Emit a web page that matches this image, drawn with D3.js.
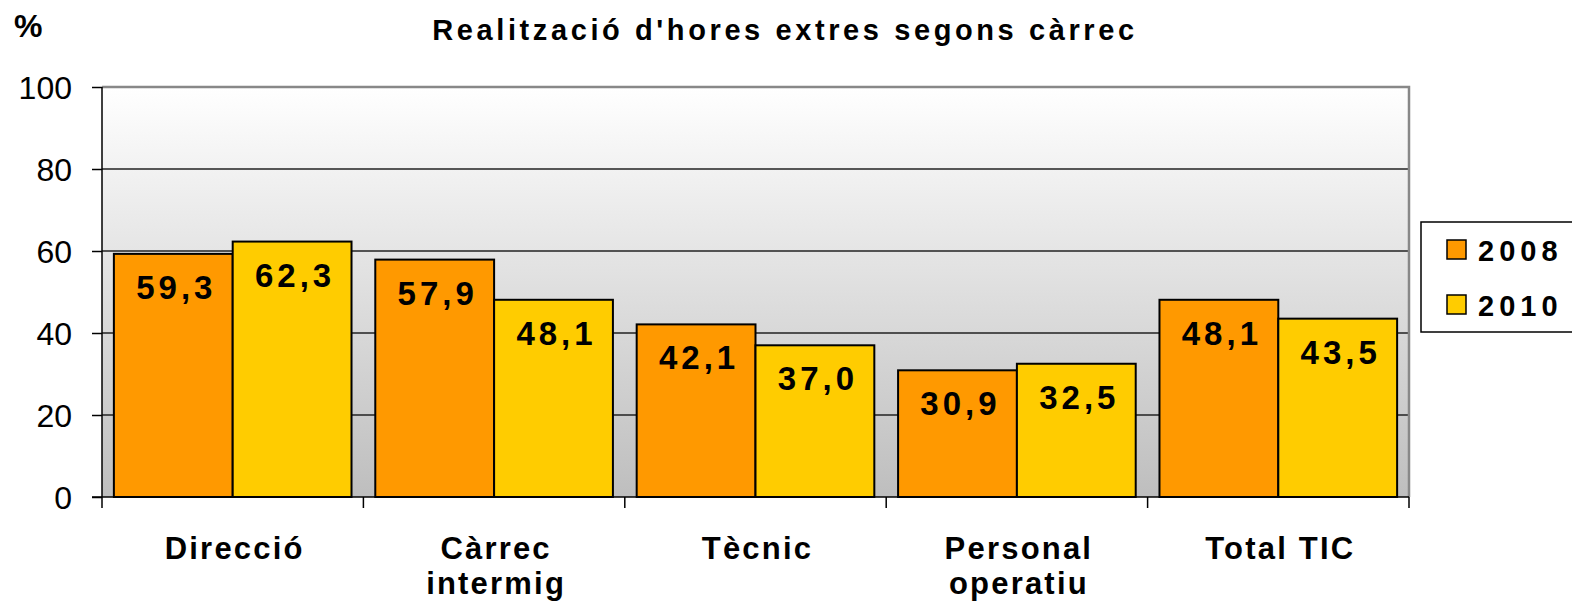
<!DOCTYPE html>
<html>
<head>
<meta charset="utf-8">
<script src="https://cdn.jsdelivr.net/npm/d3@7"></script>
<style>
  html, body { margin: 0; padding: 0; background: #fff; }
  svg { display: block; font-family: "Liberation Sans", Arial, sans-serif; }
</style>
</head>
<body>
<div id="chart"></div>
<script>
const categories = [["Direcció"], ["Càrrec", "intermig"], ["Tècnic"], ["Personal", "operatiu"], ["Total TIC"]];
const series = ["2008", "2010"];
const values2008 = [59.3, 57.9, 42.1, 30.9, 48.1];
const values2010 = [62.3, 48.1, 37.0, 32.5, 43.5];
const yTicks = [0, 20, 40, 60, 80, 100];
const colors = ["#ff9900", "#ffcc00"];

const width = 1572, height = 605;
const plot = { left: 102, right: 1409, top: 87, bottom: 497 };

const svg = d3.select("#chart").append("svg")
    .attr("width", width)
    .attr("height", height);

const defs = svg.append("defs");
const grad = defs.append("linearGradient")
    .attr("id", "bg")
    .attr("x1", 0).attr("y1", 0).attr("x2", 0).attr("y2", 1);
grad.append("stop").attr("offset", "0%").attr("stop-color", "#ffffff");
grad.append("stop").attr("offset", "100%").attr("stop-color", "#bebebe");

const x0 = d3.scaleBand()
    .domain(d3.range(categories.length))
    .range([plot.left, plot.right])
    .paddingInner(0).paddingOuter(0);

const x1 = d3.scaleBand()
    .domain(series)
    .range([0, x0.bandwidth()])
    .paddingInner(0).paddingOuter(0.1);

const y = d3.scaleLinear().domain([0, 100]).range([plot.bottom, plot.top]);

// plot background
svg.append("rect")
    .attr("x", plot.left).attr("y", plot.top)
    .attr("width", plot.right - plot.left)
    .attr("height", plot.bottom - plot.top)
    .attr("fill", "url(#bg)");

// gridlines
svg.append("g")
    .selectAll("line")
    .data(yTicks.filter(d => d > 0 && d < 100))
    .join("line")
    .attr("x1", plot.left).attr("x2", plot.right)
    .attr("y1", d => y(d)).attr("y2", d => y(d))
    .attr("stroke", "#222").attr("stroke-width", 1.5);

// top and right border
svg.append("path")
    .attr("d", `M${plot.left},${plot.top}H${plot.right}V${plot.bottom}`)
    .attr("fill", "none")
    .attr("stroke", "#888")
    .attr("stroke-width", 2.5);

// y axis
const yAxis = svg.append("g")
    .attr("transform", `translate(${plot.left},0)`)
    .call(d3.axisLeft(y).tickValues(yTicks).tickSize(10).tickPadding(20).tickFormat(d3.format("d")));
yAxis.select(".domain").attr("stroke", "#000").attr("stroke-width", 1.5)
    .attr("d", `M0,${plot.top}V${plot.bottom + 11}`);
yAxis.selectAll(".tick line").attr("stroke", "#000").attr("stroke-width", 1.5);
yAxis.selectAll(".tick text")
    .attr("font-size", 32)
    .attr("font-family", "Liberation Sans, Arial, sans-serif")
    .attr("fill", "#000")
    .attr("dy", "0.36em");

// bars
const groups = svg.append("g")
    .selectAll("g")
    .data(categories.map((c, i) => ({ i, vals: [values2008[i], values2010[i]] })))
    .join("g")
    .attr("transform", d => `translate(${x0(d.i)},0)`);

groups.selectAll("rect")
    .data(d => d.vals.map((v, k) => ({ key: series[k], v, k })))
    .join("rect")
    .attr("x", d => x1(d.key))
    .attr("y", d => y(d.v))
    .attr("width", x1.bandwidth())
    .attr("height", d => y(0) - y(d.v))
    .attr("fill", d => colors[d.k])
    .attr("stroke", "#000")
    .attr("stroke-width", 2);

const fmt = v => d3.format(".1f")(v).replace(".", ",");
groups.selectAll("text")
    .data(d => d.vals.map((v, k) => ({ key: series[k], v, k })))
    .join("text")
    .attr("x", d => x1(d.key) + x1.bandwidth() / 2 + 3)
    .attr("y", d => y(d.v) + 45)
    .attr("text-anchor", "middle")
    .attr("font-size", 33)
    .attr("font-weight", "bold")
    .attr("letter-spacing", 4)
    .text(d => fmt(d.v));

// x axis baseline and category ticks
svg.append("line")
    .attr("x1", plot.left - 10).attr("x2", plot.right)
    .attr("y1", plot.bottom).attr("y2", plot.bottom)
    .attr("stroke", "#000").attr("stroke-width", 1.5);

svg.append("g")
    .selectAll("line")
    .data(d3.range(1, categories.length + 1))
    .join("line")
    .attr("x1", d => x0(0) + d * x0.step())
    .attr("x2", d => x0(0) + d * x0.step())
    .attr("y1", plot.bottom).attr("y2", plot.bottom + 11)
    .attr("stroke", "#000").attr("stroke-width", 1.5);

// category labels
const catText = svg.append("g")
    .selectAll("text")
    .data(categories.map((c, i) => ({ c, i })))
    .join("text")
    .attr("y", 559)
    .attr("text-anchor", "middle")
    .attr("font-size", 31)
    .attr("font-weight", "bold")
    .attr("letter-spacing", 2.2);
catText.selectAll("tspan")
    .data(d => d.c.map(line => ({ line, x: x0(d.i) + x0.bandwidth() / 2 + 2 })))
    .join("tspan")
    .attr("x", d => d.x)
    .attr("dy", (d, j) => j === 0 ? 0 : 35)
    .text(d => d.line);

// title and unit
svg.append("text")
    .attr("x", 785).attr("y", 40)
    .attr("text-anchor", "middle")
    .attr("font-size", 29)
    .attr("font-weight", "bold")
    .attr("letter-spacing", 3.6)
    .text("Realització d'hores extres segons càrrec");

svg.append("text")
    .attr("x", 14).attr("y", 37)
    .attr("font-size", 32)
    .attr("font-weight", "bold")
    .text("%");

// legend
const legend = svg.append("g");
legend.append("rect")
    .attr("x", 1421).attr("y", 222)
    .attr("width", 200).attr("height", 110)
    .attr("fill", "#fff")
    .attr("stroke", "#000").attr("stroke-width", 1.5);

const items = legend.selectAll("g.item")
    .data(series)
    .join("g")
    .attr("class", "item")
    .attr("transform", (d, i) => `translate(1447,${240 + i * 55})`);
items.append("rect")
    .attr("width", 19).attr("height", 19)
    .attr("fill", (d, i) => colors[i])
    .attr("stroke", "#000").attr("stroke-width", 1.5);
items.append("text")
    .attr("x", 31).attr("y", 21)
    .attr("font-size", 29)
    .attr("font-weight", "bold")
    .attr("letter-spacing", 5)
    .text(d => d);
</script>
</body>
</html>
